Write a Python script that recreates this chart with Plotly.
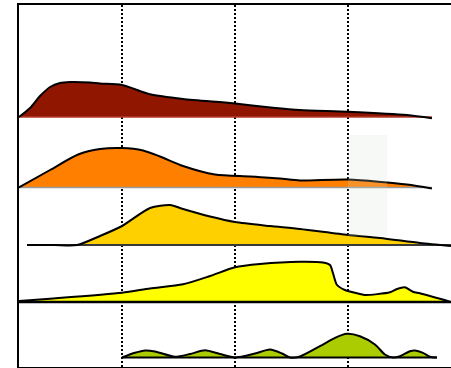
import plotly.graph_objects as go

# Ridgeline profiles: position along the shared axis and height above each ridge's baseline
red_x = [0.088, 0.186, 0.274, 0.363, 0.451, 0.540, 0.717, 0.805, 1.0, 1.248, 1.540, 1.982, 2.336, 2.575, 3.0, 3.522, 3.743]
red_h = [0, 9, 21, 30, 34, 35, 34.5, 33.5, 32, 22.7, 18, 13.7, 9.3, 7, 5.3, 2, -1.3]

orange_x = [0.088, 0.363, 0.611, 0.805, 1.0, 1.186, 1.336, 1.540, 1.823, 2.133, 2.398, 2.575, 3.0, 3.522, 3.743]
orange_h = [0, 17.5, 33, 38.5, 39.5, 37, 31, 21.5, 13, 11, 9, 7, 8, 3, -1]

gold_x = [0.159, 0.40, 0.602, 0.805, 1.0, 1.248, 1.425, 1.540, 1.779, 2.0, 2.310, 2.575, 3.0, 3.283, 3.637, 3.912]
gold_h = [0, 0, 0, 9, 19, 37, 40, 36, 28.5, 23, 19, 16, 10, 7, 2, -1]

yellow_x = [0.088, 0.363, 1.0, 1.248, 1.540, 1.779, 2.0, 2.221, 2.575, 2.779, 2.841, 2.867, 2.903, 2.973, 3.106,
            3.150, 3.372, 3.434, 3.504, 3.575, 3.637, 3.912]
yellow_h = [1, 3.3, 9.3, 13.5, 17.7, 26, 34.7, 38, 40.3, 39.5, 37, 29, 17, 12, 8, 7, 9.7, 13, 14.7, 10.3, 8.7, 0]

green_x = [1.0, 1.115, 1.204, 1.292, 1.469, 1.602, 1.735, 1.867, 2.0, 2.177, 2.310, 2.416, 2.487, 2.575, 2.752,
           2.885, 2.991, 3.106, 3.239, 3.327, 3.398, 3.460, 3.549, 3.593, 3.664, 3.726, 3.788]
green_h = [0, 4.7, 7, 6, 0.7, 3.5, 7.3, 3.5, 0, 4, 8, 4, 0, 1, 11.3, 19.7, 23.7, 21.3, 13, 3, 0, 1.3, 6.3, 7, 4.7, 0.7, 0]

ridges = [
    (red_x, red_h, "#901600", "#b23a2a", 1.5),
    (orange_x, orange_h, "#FF7F00", "#9a9a9a", 1.5),
    (gold_x, gold_h, "#FFD000", "#3a3a3a", 2),
    (yellow_x, yellow_h, "#FFFF00", "#000000", 2.5),
    (green_x, green_h, "#AACC00", "#000000", 2),
]
ridge_offsets = [250, 179.5, 122, 65, 9.5]

fig = go.Figure()
for (xs, hs, fill, base_col, base_w), off in zip(ridges, ridge_offsets):
    fig.add_trace(go.Scatter(
        x=xs, y=[off] * len(xs), mode="lines",
        line=dict(color=base_col, width=base_w), hoverinfo="skip", showlegend=False,
    ))
    fig.add_trace(go.Scatter(
        x=xs, y=[off + h for h in hs], mode="lines", fill="tonexty", fillcolor=fill,
        line=dict(color="black", width=2, shape="spline", smoothing=0.7), showlegend=False,
    ))

# translucent highlight band
fig.add_shape(type="rect", x0=3.0, x1=3.345, y0=131, y1=232, xref="x", yref="y",
              fillcolor="rgba(214,224,214,0.2)", line=dict(width=0), layer="above")

fig.update_layout(
    width=451, height=368,
    margin=dict(l=19, r=0, t=5, b=1),
    paper_bgcolor="white", plot_bgcolor="white",
    xaxis=dict(range=[0.088, 3.912], tickvals=[1, 2, 3], showticklabels=False, ticks="",
               showgrid=True, gridcolor="black", gridwidth=2, griddash="2px,2px",
               zeroline=False, showline=True, linecolor="black", linewidth=2, mirror=True),
    yaxis=dict(range=[0, 362], showticklabels=False, ticks="", showgrid=False, zeroline=False,
               showline=True, linecolor="black", linewidth=2),
)

fig.write_html("out.html")
